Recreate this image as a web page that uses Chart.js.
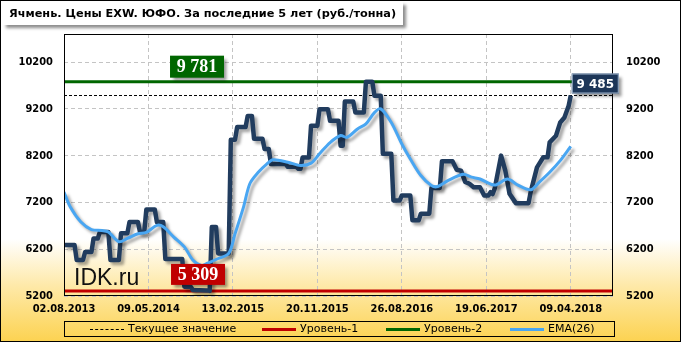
<!DOCTYPE html>
<html>
<head>
<meta charset="utf-8">
<script src="https://cdn.jsdelivr.net/npm/chart.js@4"></script>
<style>
  body { margin: 0; }
  #wrap {
    position: relative; width: 681px; height: 342px; box-sizing: border-box;
    border: 1px solid #000; overflow: hidden;
    background: linear-gradient(to bottom, #ffffff 0px, #ffffff 238px, #fee9a8 285px, #fcd24f 342px);
    font-family: "DejaVu Sans", sans-serif;
  }
  #chart { position: absolute; left: -1px; top: -1px; }
  #title {
    position: absolute; left: 2px; top: 1px; width: 400px; height: 23px;
    background: #fff; box-shadow: 3px 3px 3px rgba(0,0,0,0.45);
    font: bold 11.3px "DejaVu Sans", sans-serif; line-height: 23px; padding-left: 6px; box-sizing: border-box;
    white-space: nowrap;
  }
  #legend {
    position: absolute; left: 63px; top: 320px; width: 551px; height: 16px; box-sizing: border-box;
    border: 1px solid #000; font: 11px "DejaVu Sans", sans-serif; line-height: 14px; white-space: nowrap;
  }
  #legend span.s { position: absolute; top: 7px; width: 34px; height: 0; }
  #legend span.t { position: absolute; top: 0; }
</style>
</head>
<body>
<div id="wrap">
  <canvas id="chart" width="681" height="342"></canvas>
  <div id="title">Ячмень. Цены EXW. ЮФО. За последние 5 лет (руб./тонна)</div>
  <div id="legend">
    <span class="s" style="left:25px;border-top:1px dashed #000"></span><span class="t" style="left:63px">Текущее значение</span>
    <span class="s" style="left:197px;border-top:3px solid #c00000;top:6px"></span><span class="t" style="left:235px">Уровень-1</span>
    <span class="s" style="left:321px;border-top:3px solid #006600;top:6px"></span><span class="t" style="left:359px">Уровень-2</span>
    <span class="s" style="left:445px;border-top:3px solid #49a6f2;top:6px"></span><span class="t" style="left:483px">EMA(26)</span>
  </div>
</div>
<script>
// weekly index, 0 = 02.08.2013
const xTickWeeks = [0, 40, 80, 120, 160, 200, 240];
const xLabels = ["02.08.2013", "09.05.2014", "13.02.2015", "20.11.2015", "26.08.2016", "19.06.2017", "09.04.2018"];
const yTicks = [5200, 6200, 7200, 8200, 9200, 10200];

const priceWeeks = [0, 5, 6, 9, 10, 13, 14, 16, 17, 21, 22, 26, 27, 30, 31, 35, 36, 38, 39, 43, 44, 47, 48, 56, 57, 60, 61, 68, 69, 70,
  72, 73, 78, 79, 81, 82, 86, 87, 89, 90, 94, 95, 97, 98, 105, 106, 110, 111, 112, 113, 116, 117, 120, 121, 125, 126, 130, 131, 132, 133,
  137, 138, 142, 143, 146, 147, 150, 151, 155, 156, 159, 160, 164, 165, 168, 169, 173, 174, 178, 179, 184, 186, 188, 190, 192, 194, 197, 199, 201, 202,
  203, 204, 207, 209, 211, 214, 220, 221, 224, 227, 229, 230, 233, 235, 237, 239, 240];
const prices = [6290, 6290, 5970, 5970, 6140, 6140, 6430, 6430, 6570, 6570, 5970, 5970, 6540, 6540, 6780, 6780, 6570, 6570, 7050, 7050, 6780, 6780, 5990, 5990, 5400, 5400, 5330, 5320, 5309, 6675,
  6675, 6110, 6110, 8540, 8540, 8810, 8810, 9050, 9050, 8560, 8560, 8340, 8340, 8020, 8020, 7960, 7960, 7920, 7920, 8160, 8160, 8840, 8840, 9190, 9190, 8945, 8945, 8410, 8410, 9356,
  9356, 9120, 9120, 9781, 9781, 9480, 9480, 8240, 8240, 7243, 7243, 7350, 7350, 6817, 6817, 6960, 6960, 7510, 7510, 8080, 8080, 7900, 7880, 7640, 7600, 7526, 7526, 7350, 7350, 7420,
  7380, 7500, 8200, 7880, 7385, 7185, 7185, 7420, 7950, 8164, 8164, 8484, 8626, 8910, 9016, 9265, 9485];

const emaWeeks = [0, 3, 8, 13, 18, 21, 26, 30, 35, 39, 44, 47, 52, 57, 61, 65, 68, 72, 78, 81, 85, 88, 92, 96, 99, 106, 112, 117, 121, 126,
  131, 134, 139, 143, 147, 150, 155, 160, 164, 169, 174, 177, 182, 189, 193, 197, 204, 210, 215, 221, 225, 230, 235, 240];
const ema = [7420, 7100, 6780, 6620, 6600, 6570, 6360, 6430, 6530, 6560, 6710, 6680, 6460, 6250, 5970, 5850, 5900, 5980, 6110, 6530, 7100, 7600, 7845, 8020, 8110, 8060, 7990, 8040, 8240, 8480,
  8630, 8590, 8770, 8880, 9120, 9200, 8910, 8450, 8130, 7775, 7560, 7540, 7670, 7800, 7740, 7700, 7570, 7700, 7570, 7470, 7630, 7845, 8094, 8400];

const level1 = 5309;
const level2 = 9781;
const current = 9485;
const lastWeek = 240;
const endWeek = 260;
const levelLabelWeek = 63;

const pts = (ws, vs) => ws.map((w, i) => ({ x: w, y: vs[i] }));
const flat = (v) => [{ x: 0, y: v }, { x: endWeek, y: v }];
const fmt = (v) => String(v).replace(/\B(?=(\d{3})+(?!\d))/g, " ");

const shadowPlugin = {
  id: "shadow",
  beforeDatasetDraw(chart, args) {
    const ds = chart.data.datasets[args.index];
    if (!ds.shadow) return;
    const ctx = chart.ctx;
    ctx.save();
    ctx.shadowColor = "rgba(0,0,0,0.35)";
    ctx.shadowOffsetX = 3;
    ctx.shadowOffsetY = 3;
    ctx.shadowBlur = 3;
  },
  afterDatasetDraw(chart, args) {
    if (chart.data.datasets[args.index].shadow) chart.ctx.restore();
  }
};

function box(ctx, x, y, w, h, fill, text, font, stroke) {
  ctx.save();
  ctx.shadowColor = "rgba(0,0,0,0.4)";
  ctx.shadowOffsetX = 3;
  ctx.shadowOffsetY = 3;
  ctx.shadowBlur = 3;
  ctx.fillStyle = fill;
  ctx.fillRect(x, y, w, h);
  ctx.restore();
  if (stroke) {
    ctx.strokeStyle = stroke;
    ctx.lineWidth = 1;
    ctx.strokeRect(x + 0.5, y + 0.5, w - 1, h - 1);
  }
  ctx.fillStyle = "#fff";
  ctx.font = font;
  ctx.textAlign = "center";
  ctx.textBaseline = "middle";
  ctx.fillText(text, x + w / 2, y + h / 2 + 1);
}

const framePlugin = {
  id: "frame",
  beforeDatasetsDraw(chart) {
    const { ctx, chartArea: a } = chart;
    ctx.save();
    ctx.fillStyle = "#111";
    ctx.font = "23px 'Liberation Sans', Arial, sans-serif";
    ctx.textBaseline = "alphabetic";
    ctx.fillText("IDK.ru", a.left + 10, a.bottom - 11);
    ctx.restore();
  },
  afterDraw(chart) {
    const { ctx, chartArea: a, scales } = chart;
    ctx.save();
    ctx.setLineDash([]);
    ctx.strokeStyle = "#000";
    ctx.lineWidth = 1;
    ctx.strokeRect(a.left + 0.5, a.top + 0.5, a.right - a.left - 1, a.bottom - a.top - 1);
    const xs = scales.x, ys = scales.y;
    const cx = xs.getPixelForValue(levelLabelWeek);
    box(ctx, cx - 27, ys.getPixelForValue(level2) - 26, 54, 22, "#006600", fmt(level2), "bold 18px 'Liberation Serif', serif");
    box(ctx, cx - 26, ys.getPixelForValue(level1) - 27, 54, 21, "#c00000", fmt(level1), "bold 18px 'Liberation Serif', serif");
    box(ctx, xs.getPixelForValue(lastWeek) + 1, ys.getPixelForValue(current) - 22, 47, 20, "#1d3658", fmt(current), "bold 12px 'DejaVu Sans', sans-serif", "#9fb4cc");
    ctx.restore();
  }
};

const tickFont = { family: "'DejaVu Sans Condensed', 'DejaVu Sans', sans-serif", size: 11, weight: "bold" };
const gridStyle = { color: "#c4c4c4", drawTicks: false };
const plainNum = (v) => String(v);

new Chart(document.getElementById("chart"), {
  type: "line",
  data: {
    datasets: [
      { label: "EMA(26)", data: pts(emaWeeks, ema), borderColor: "#49a6f2", borderWidth: 3, tension: 0.3, shadow: true, order: 0 },
      { label: "Цена", data: pts(priceWeeks, prices), borderColor: "#213c5e", borderWidth: 4.5, borderJoinStyle: "round", shadow: true, order: 1 },
      { label: "Текущее значение", data: flat(current), borderColor: "#000", borderWidth: 1, borderDash: [3, 2], order: 2 },
      { label: "Уровень-1", data: flat(level1), borderColor: "#c00000", borderWidth: 3, order: 3 },
      { label: "Уровень-2", data: flat(level2), borderColor: "#006600", borderWidth: 3, order: 3 }
    ]
  },
  options: {
    responsive: false,
    animation: false,
    layout: { padding: { top: 34, left: 1, right: 0, bottom: 0 } },
    elements: { point: { radius: 0 } },
    plugins: { legend: { display: false }, tooltip: { enabled: false } },
    scales: {
      x: {
        type: "linear", min: 0, max: endWeek,
        afterBuildTicks: (s) => { s.ticks = xTickWeeks.map((v) => ({ value: v })); },
        afterFit: (s) => { s.height = 46; },
        ticks: { font: tickFont, color: "#000", padding: 7, maxRotation: 0, autoSkip: false,
          callback: (v) => xLabels[xTickWeeks.indexOf(v)] },
        grid: gridStyle,
        border: { display: false, dash: [4, 3] }
      },
      y: {
        position: "left", min: 5200, max: 10800,
        afterBuildTicks: (s) => { s.ticks = yTicks.map((v) => ({ value: v })); },
        afterFit: (s) => { s.width = 63; },
        ticks: { font: tickFont, color: "#000", padding: 11, callback: plainNum },
        grid: gridStyle,
        border: { display: false, dash: [4, 3] }
      },
      y2: {
        position: "right", min: 5200, max: 10800,
        afterBuildTicks: (s) => { s.ticks = yTicks.map((v) => ({ value: v })); },
        afterFit: (s) => { s.width = 68; },
        ticks: { font: tickFont, color: "#000", padding: 13, callback: plainNum },
        grid: { display: false, drawTicks: false },
        border: { display: false }
      }
    }
  },
  plugins: [shadowPlugin, framePlugin]
});
</script>
</body>
</html>
